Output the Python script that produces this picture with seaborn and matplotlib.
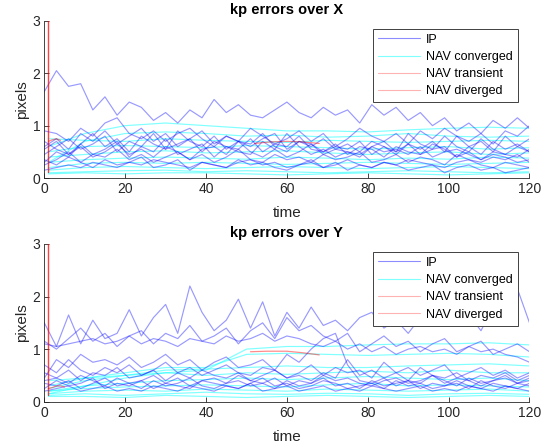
import numpy as np
import pandas as pd
import matplotlib
matplotlib.use("Agg")
import matplotlib.pyplot as plt
from matplotlib.lines import Line2D
import seaborn as sns

# ---- sample times ----
ip_time = list(range(0, 121, 3))                 # image-processing samples
nav_time = [1, 10, 20, 30, 40, 50, 60, 70, 80, 90, 100, 110, 120]

# ---- keypoint errors over X ----
ipx1 = [1.65, 2.05, 1.75, 1.80, 1.30, 1.55, 1.20, 1.45, 1.35, 1.10, 1.25, 1.05, 1.30, 1.15, 1.50, 1.25, 1.40, 1.20, 1.15, 1.30, 1.45,
        1.25, 1.15, 1.35, 1.20, 1.30, 1.05, 1.40, 1.20, 1.35, 1.10, 1.25, 1.00, 1.15, 0.90, 1.05, 0.85, 1.10, 0.95, 1.15, 0.95]
ipx2 = [0.90, 0.85, 0.70, 0.95, 0.80, 1.05, 1.15, 0.85, 0.75, 0.90, 0.70, 0.85, 0.95, 0.75, 0.60, 0.80, 0.70, 0.95, 0.80, 0.65, 0.75,
        0.90, 0.70, 0.85, 0.60, 0.75, 0.95, 0.80, 0.70, 0.85, 0.65, 0.90, 0.75, 0.95, 0.80, 0.70, 0.85, 0.65, 0.90, 0.80, 1.00]
ipx3 = [0.55, 0.70, 0.45, 0.65, 0.85, 0.60, 0.75, 0.50, 0.80, 0.65, 0.55, 0.90, 0.70, 0.60, 0.80, 0.55, 0.70, 0.65, 0.85, 0.60, 0.50,
        0.70, 0.60, 0.75, 0.55, 0.65, 0.50, 0.70, 0.60, 0.45, 0.65, 0.55, 0.70, 0.50, 0.80, 0.60, 0.45, 0.70, 0.55, 0.65, 0.50]
ipx4 = [0.45, 0.60, 0.75, 0.55, 0.65, 0.80, 0.50, 0.70, 0.60, 0.85, 0.55, 0.65, 0.75, 0.50, 0.70, 0.60, 0.55, 0.75, 0.50, 0.65, 0.60,
        0.80, 0.55, 0.50, 0.65, 0.45, 0.60, 0.55, 0.40, 0.60, 0.50, 0.45, 0.65, 0.55, 0.40, 0.60, 0.70, 0.50, 0.80, 0.60, 0.75]
ipx5 = [0.30, 0.50, 0.40, 0.65, 0.45, 0.55, 0.70, 0.40, 0.60, 0.50, 0.75, 0.45, 0.55, 0.65, 0.40, 0.60, 0.50, 0.45, 0.70, 0.55, 0.40,
        0.50, 0.65, 0.45, 0.55, 0.50, 0.40, 0.60, 0.50, 0.55, 0.45, 0.60, 0.40, 0.50, 0.55, 0.45, 0.35, 0.50, 0.45, 0.40, 0.55]
ipx6 = [0.70, 0.55, 0.45, 0.60, 0.40, 0.50, 0.65, 0.45, 0.55, 0.40, 0.60, 0.50, 0.35, 0.55, 0.60, 0.45, 0.70, 0.50, 0.40, 0.55, 0.85,
        0.60, 0.45, 0.55, 0.40, 0.50, 0.45, 0.60, 0.70, 0.50, 0.85, 0.65, 0.55, 0.80, 0.60, 0.50, 0.75, 0.55, 0.45, 0.60, 0.50]
ipx7 = [0.25, 0.35, 0.50, 0.30, 0.45, 0.40, 0.55, 0.35, 0.45, 0.30, 0.40, 0.50, 0.35, 0.45, 0.30, 0.40, 0.55, 0.35, 0.30, 0.45, 0.35,
        0.40, 0.30, 0.45, 0.35, 0.40, 0.50, 0.30, 0.35, 0.45, 0.30, 0.40, 0.35, 0.25, 0.45, 0.35, 0.30, 0.40, 0.35, 0.45, 0.30]
ipx8 = [0.15, 0.20, 0.25, 0.20, 0.30, 0.25, 0.20, 0.30, 0.25, 0.35, 0.30, 0.25, 0.20, 0.30, 0.25, 0.20, 0.30, 0.35, 0.25, 0.30, 0.20,
        0.25, 0.30, 0.20, 0.25, 0.35, 0.25, 0.20, 0.30, 0.25, 0.35, 0.30, 0.25, 0.20, 0.30, 0.35, 0.25, 0.20, 0.30, 0.25, 0.20]
ipx9 = [0.60, 0.75, 0.55, 0.85, 0.70, 0.90, 0.65, 0.80, 0.95, 0.70, 0.85, 0.60, 0.75, 0.90, 0.65, 0.80, 0.70, 0.60, 0.75, 0.85, 0.55,
        0.70, 0.65, 0.50, 0.60, 0.55, 0.70, 0.45, 0.60, 0.50, 0.65, 0.45, 0.55, 0.60, 0.40, 0.50, 0.35, 0.45, 0.40, 0.30, 0.35]
ipx10 = [0.35, 0.25, 0.40, 0.30, 0.20, 0.35, 0.25, 0.30, 0.40, 0.20, 0.25, 0.35, 0.15, 0.30, 0.25, 0.20, 0.35, 0.25, 0.30, 0.20, 0.15,
         0.25, 0.35, 0.20, 0.30, 0.15, 0.25, 0.20, 0.30, 0.25, 0.15, 0.20, 0.25, 0.10, 0.20, 0.25, 0.15, 0.20, 0.10, 0.15, 0.20]

navx_conv = [
    [0.60, 0.85, 1.00, 1.05, 1.00, 0.95, 0.90, 0.90, 0.88, 0.92, 0.95, 0.97, 0.95],
    [0.30, 0.70, 0.85, 0.88, 0.85, 0.80, 0.82, 0.78, 0.80, 0.85, 0.80, 0.78, 0.80],
    [0.75, 0.72, 0.70, 0.75, 0.72, 0.70, 0.68, 0.72, 0.70, 0.68, 0.70, 0.72, 0.70],
    [0.50, 0.60, 0.62, 0.60, 0.58, 0.62, 0.60, 0.58, 0.55, 0.58, 0.60, 0.55, 0.58],
    [0.40, 0.45, 0.50, 0.52, 0.48, 0.50, 0.52, 0.48, 0.45, 0.48, 0.50, 0.45, 0.48],
    [0.30, 0.35, 0.38, 0.40, 0.38, 0.36, 0.40, 0.38, 0.35, 0.38, 0.36, 0.40, 0.38],
    [0.20, 0.28, 0.30, 0.28, 0.30, 0.28, 0.26, 0.28, 0.30, 0.28, 0.26, 0.28, 0.30],
    [0.15, 0.20, 0.22, 0.20, 0.18, 0.20, 0.22, 0.20, 0.18, 0.20, 0.22, 0.20, 0.18],
    [0.10, 0.12, 0.14, 0.15, 0.12, 0.14, 0.12, 0.10, 0.12, 0.14, 0.12, 0.10, 0.12],
    [0.08, 0.10, 0.08, 0.10, 0.10, 0.08, 0.06, 0.08, 0.10, 0.08, 0.06, 0.08, 0.10],
]
navx_trans_t = [[1, 2, 3, 4], [52, 56, 60, 64, 68]]
navx_trans_v = [[0.70, 0.73, 0.75, 0.72], [0.66, 0.69, 0.70, 0.69, 0.66]]
navx_div_t = [1, 1]
navx_div_v = [0.12, 3.2]

# ---- keypoint errors over Y ----
ipy1 = [1.50, 1.05, 1.65, 1.10, 1.55, 1.20, 1.30, 1.75, 1.25, 1.60, 1.85, 1.30, 2.20, 1.70, 1.35, 1.55, 1.95, 1.40, 1.90, 1.25, 1.70,
        1.40, 1.80, 1.45, 1.55, 1.35, 1.60, 1.70, 1.40, 1.55, 1.30, 1.60, 1.45, 1.75, 1.55, 1.65, 1.35, 1.80, 1.50, 2.15, 1.50]
ipy2 = [1.10, 1.05, 1.10, 1.15, 1.20, 1.10, 1.15, 1.25, 1.10, 1.20, 1.15, 1.05, 1.20, 1.15, 1.10, 1.25, 1.15, 1.20, 1.30, 1.15, 1.25,
        1.20, 1.10, 1.05, 1.15, 1.00, 1.10, 0.95, 1.05, 0.90, 1.00, 1.05, 0.95, 1.00, 0.90, 1.05, 0.95, 1.00, 0.90, 0.85, 0.75]
ipy3 = [1.15, 1.00, 1.20, 1.40, 1.15, 1.30, 1.05, 1.25, 1.35, 1.10, 1.30, 1.20, 1.45, 1.15, 1.25, 1.40, 1.10, 1.35, 1.50, 1.20, 1.60,
        1.35, 1.45, 1.25, 1.15, 1.30, 0.95, 1.10, 1.25, 1.05, 1.15, 0.95, 1.10, 1.20, 0.95, 1.05, 1.15, 0.90, 1.00, 1.10, 0.95]
ipy4 = [0.45, 0.80, 0.65, 0.90, 0.75, 0.80, 0.70, 0.85, 0.65, 0.75, 0.90, 0.70, 0.80, 0.60, 0.75, 0.85, 0.65, 0.70, 0.80, 0.60, 0.90,
        0.75, 1.00, 1.20, 1.30, 0.70, 0.40, 0.35, 0.45, 0.30, 0.40, 0.35, 0.50, 0.40, 0.30, 0.45, 0.35, 0.40, 0.50, 0.35, 0.45]
ipy5 = [0.70, 0.55, 0.80, 0.60, 0.50, 0.65, 0.55, 0.70, 0.50, 0.60, 0.75, 0.55, 0.65, 0.50, 0.60, 0.70, 0.55, 0.50, 0.65, 0.60, 0.45,
        0.55, 0.70, 0.50, 0.65, 0.55, 0.60, 0.45, 0.75, 0.55, 0.65, 0.50, 0.60, 0.70, 0.45, 0.55, 0.65, 0.50, 0.60, 0.45, 0.55]
ipy6 = [0.40, 0.45, 0.35, 0.50, 0.40, 0.30, 0.45, 0.35, 0.40, 0.50, 0.35, 0.45, 0.30, 0.40, 0.45, 0.35, 0.50, 0.40, 0.35, 0.45, 0.30,
        0.40, 0.35, 0.50, 0.40, 0.45, 0.35, 0.30, 0.40, 0.45, 0.35, 0.40, 0.50, 0.35, 0.45, 0.40, 0.30, 0.40, 0.45, 0.35, 0.40]
ipy7 = [0.35, 0.30, 0.40, 0.25, 0.35, 0.45, 0.30, 0.35, 0.25, 0.40, 0.30, 0.35, 0.45, 0.30, 0.25, 0.35, 0.40, 0.30, 0.35, 0.25, 0.40,
        0.30, 0.35, 0.45, 0.30, 0.35, 0.25, 0.40, 0.30, 0.35, 0.40, 0.25, 0.35, 0.30, 0.40, 0.30, 0.25, 0.35, 0.30, 0.25, 0.35]
ipy8 = [0.25, 0.40, 0.30, 0.35, 0.45, 0.25, 0.35, 0.30, 0.40, 0.25, 0.35, 0.30, 0.25, 0.40, 0.35, 0.30, 0.25, 0.35, 0.45, 0.30, 0.35,
        0.25, 0.30, 0.40, 0.35, 0.25, 0.30, 0.35, 0.25, 0.40, 0.30, 0.35, 0.25, 0.30, 0.35, 0.25, 0.40, 0.30, 0.25, 0.35, 0.30]
ipy9 = [0.55, 0.45, 0.60, 0.40, 0.55, 0.50, 0.65, 0.45, 0.50, 0.60, 0.40, 0.55, 0.45, 0.60, 0.50, 0.45, 0.55, 0.40, 0.50, 0.60, 0.45,
        0.50, 0.40, 0.55, 0.45, 0.80, 0.50, 0.60, 0.45, 0.55, 0.40, 0.65, 0.50, 0.45, 0.55, 0.40, 0.50, 0.45, 0.55, 0.40, 0.50]
ipy10 = [0.20, 0.25, 0.30, 0.20, 0.25, 0.30, 0.20, 0.25, 0.20, 0.30, 0.25, 0.20, 0.30, 0.25, 0.20, 0.30, 0.25, 0.35, 0.20, 0.25, 0.30,
         0.20, 0.25, 0.30, 0.20, 0.25, 0.20, 0.30, 0.25, 0.20, 0.25, 0.30, 0.20, 0.25, 0.20, 0.30, 0.25, 0.20, 0.30, 0.25, 0.20]

navy_conv = [
    [0.20, 0.30, 0.45, 0.55, 0.60, 1.00, 1.05, 1.05, 1.08, 1.10, 1.10, 1.12, 1.08],
    [0.30, 0.45, 0.55, 0.65, 0.65, 0.90, 0.92, 0.90, 0.88, 0.90, 0.92, 0.90, 0.85],
    [0.25, 0.40, 0.50, 0.60, 0.62, 0.65, 0.68, 0.65, 0.65, 0.68, 0.70, 0.72, 0.68],
    [0.40, 0.45, 0.50, 0.55, 0.50, 0.55, 0.52, 0.55, 0.58, 0.55, 0.60, 0.55, 0.55],
    [0.15, 0.30, 0.35, 0.40, 0.42, 0.45, 0.42, 0.45, 0.48, 0.45, 0.42, 0.45, 0.40],
    [0.20, 0.25, 0.28, 0.30, 0.32, 0.30, 0.28, 0.32, 0.35, 0.30, 0.32, 0.30, 0.28],
    [0.15, 0.20, 0.22, 0.20, 0.24, 0.22, 0.20, 0.24, 0.22, 0.20, 0.22, 0.24, 0.20],
    [0.12, 0.15, 0.12, 0.15, 0.18, 0.15, 0.14, 0.16, 0.15, 0.12, 0.15, 0.16, 0.14],
    [0.10, 0.10, 0.08, 0.12, 0.10, 0.08, 0.10, 0.12, 0.10, 0.08, 0.10, 0.12, 0.10],
]
navy_trans_t = [[1, 2, 3, 4, 5], [51, 55, 60, 64, 68]]
navy_trans_v = [[0.25, 0.27, 0.30, 0.30, 0.28], [0.95, 0.96, 0.96, 0.93, 0.89]]
navy_div_t = [1, 1]
navy_div_v = [0.12, 3.2]

legend_labels = ["IP", "NAV converged", "NAV transient", "NAV diverged"]

IP_COLOR = (0.0, 0.0, 1.0)
CONV_COLOR = (0.0, 1.0, 1.0)
RED = (1.0, 0.0, 0.0)
AX_GRAY = "#262626"


def long_frame(times_list, values_list):
    rows = []
    for run, (t, v) in enumerate(zip(times_list, values_list)):
        for ti, vi in zip(t, v):
            rows.append((run, ti, vi))
    return pd.DataFrame(rows, columns=["run", "time", "err"])


sns.set_theme(style="white")
plt.rcParams["font.family"] = ["Liberation Sans", "DejaVu Sans"]

fig = plt.figure(figsize=(5.47, 4.44), dpi=100)
ax_x = fig.add_axes([0.081, 0.599, 0.887, 0.354])
ax_y = fig.add_axes([0.081, 0.0953, 0.887, 0.3552])

panels = [
    (ax_x, "kp errors over X",
     [ipx1, ipx2, ipx3, ipx4, ipx5, ipx6, ipx7, ipx8, ipx9, ipx10],
     navx_conv, navx_trans_t, navx_trans_v, navx_div_t, navx_div_v),
    (ax_y, "kp errors over Y",
     [ipy1, ipy2, ipy3, ipy4, ipy5, ipy6, ipy7, ipy8, ipy9, ipy10],
     navy_conv, navy_trans_t, navy_trans_v, navy_div_t, navy_div_v),
]

for ax, title, ip_runs, conv_runs, tr_t, tr_v, dv_t, dv_v in panels:
    ip_df = long_frame([ip_time] * len(ip_runs), ip_runs)
    conv_df = long_frame([nav_time] * len(conv_runs), conv_runs)
    tr_df = long_frame(tr_t, tr_v)
    dv_df = long_frame([dv_t], [dv_v])

    sns.lineplot(data=conv_df, x="time", y="err", units="run", estimator=None,
                 color=CONV_COLOR, alpha=0.5, lw=0.85, ax=ax, legend=False)
    sns.lineplot(data=ip_df, x="time", y="err", units="run", estimator=None,
                 color=IP_COLOR, alpha=0.4, lw=0.85, ax=ax, legend=False)
    sns.lineplot(data=tr_df, x="time", y="err", units="run", estimator=None,
                 color=RED, alpha=0.45, lw=0.9, ax=ax, legend=False)
    sns.lineplot(data=dv_df, x="time", y="err", units="run", estimator=None,
                 color=RED, alpha=0.75, lw=1.0, ax=ax, legend=False, sort=False)

    ax.set_xlim(0, 120)
    ax.set_ylim(0, 3)
    ax.set_xticks(range(0, 121, 20))
    ax.set_yticks([0, 1, 2, 3])
    ax.set_title(title, fontsize=10.5, fontweight="bold", color="black", pad=5)
    ax.set_xlabel("time", fontsize=11, color=AX_GRAY, labelpad=7)
    ax.set_ylabel("pixels", fontsize=11, color=AX_GRAY, labelpad=2)
    for side in ("top", "right"):
        ax.spines[side].set_visible(False)
    for side in ("left", "bottom"):
        ax.spines[side].set_color(AX_GRAY)
        ax.spines[side].set_linewidth(0.6)
    ax.tick_params(direction="in", length=3.5, width=0.6, color=AX_GRAY,
                   labelcolor=AX_GRAY, labelsize=10, left=True, bottom=True, pad=3)

    handles = [
        Line2D([], [], color=IP_COLOR, alpha=0.45, lw=0.8),
        Line2D([], [], color=CONV_COLOR, alpha=0.5, lw=0.8),
        Line2D([], [], color=RED, alpha=0.3, lw=0.8),
        Line2D([], [], color=RED, alpha=0.3, lw=0.8),
    ]
    leg = ax.legend(handles, legend_labels, loc="upper right",
                    bbox_to_anchor=(0.976, 0.95), fontsize=9, frameon=True,
                    fancybox=False, framealpha=1, edgecolor="#404040",
                    handlelength=3.4, handletextpad=0.45, labelspacing=0.42,
                    borderpad=0.4, borderaxespad=0)
    leg.get_frame().set_linewidth(0.7)
    for txt in leg.get_texts():
        txt.set_color("black")

fig.savefig("out.png", dpi=100)
